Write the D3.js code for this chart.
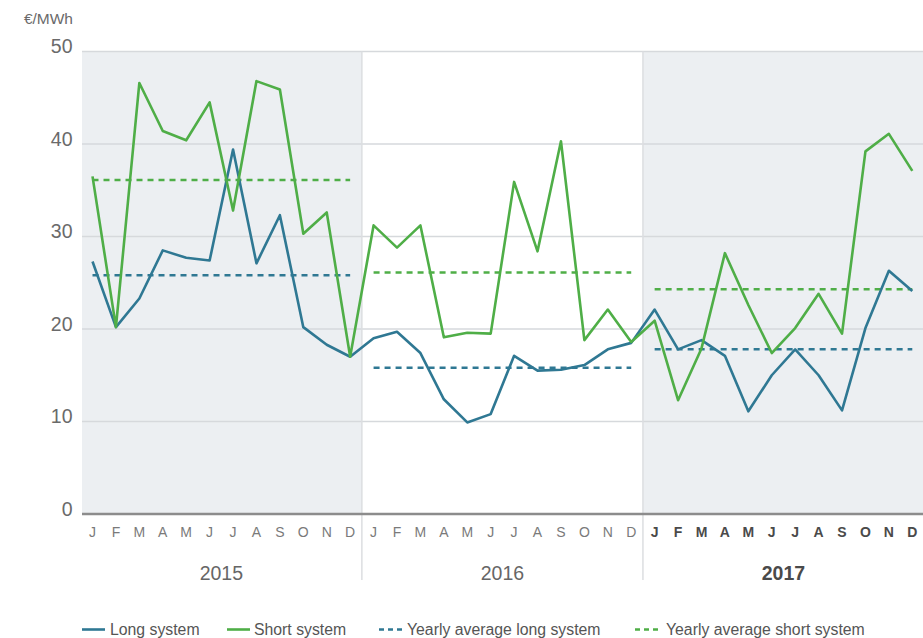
<!DOCTYPE html>
<html>
<head>
<meta charset="utf-8">
<script src="https://cdn.jsdelivr.net/npm/d3@7"></script>
<style>
  html, body { margin: 0; padding: 0; background: #fff; }
  svg { display: block; font-family: "Liberation Sans", Arial, sans-serif; }
</style>
</head>
<body>
<svg id="chart" width="923" height="638"></svg>
<script>
// Monthly imbalance prices, €/MWh
const years = ["2015", "2016", "2017"];
const months = ["J", "F", "M", "A", "M", "J", "J", "A", "S", "O", "N", "D"];
const yTicks = [0, 10, 20, 30, 40, 50];

const longSystem = [
  27.3, 20.2, 23.3, 28.5, 27.7, 27.4, 39.4, 27.1, 32.3, 20.2, 18.3, 17.0,
  19.0, 19.7, 17.4, 12.4, 9.9, 10.8, 17.1, 15.5, 15.6, 16.1, 17.8, 18.5,
  22.1, 17.8, 18.8, 17.1, 11.1, 15.0, 17.8, 15.0, 11.2, 20.1, 26.3, 24.1
];
const shortSystem = [
  36.5, 20.2, 46.6, 41.4, 40.4, 44.5, 32.8, 46.8, 45.9, 30.3, 32.6, 17.0,
  31.2, 28.8, 31.2, 19.1, 19.6, 19.5, 35.9, 28.4, 40.3, 18.8, 22.1, 18.6,
  20.9, 12.3, 17.9, 28.2, 22.6, 17.4, 20.1, 23.8, 19.5, 39.2, 41.1, 37.1
];
const avgLong = [25.8, 15.8, 17.8];
const avgShort = [36.1, 26.1, 24.3];

const colLong = "#2f7893";
const colShort = "#4fae47";

const svg = d3.select("#chart");
const plotTop = 51.5, plotBottom = 514;

const keys = [];
years.forEach(yr => months.forEach((m, i) => keys.push(yr + "-" + i)));

const x = d3.scaleBand().domain(keys).range([80.8, 924]).padding(0);
const cx = k => x(k) + x.bandwidth() / 2;
const y = d3.scaleLinear().domain([0, 50]).range([plotBottom, plotTop]);

// Year panels
years.forEach((yr, yi) => {
  const x0 = Math.max(x(yr + "-0"), 82), x1 = x(yr + "-11") + x.bandwidth();
  if (yi !== 1) {
    svg.append("rect")
      .attr("x", x0).attr("y", plotTop)
      .attr("width", x1 - x0).attr("height", plotBottom - plotTop)
      .attr("fill", "#eceff2");
  }
});

// Horizontal gridlines
svg.append("g").selectAll("line")
  .data(yTicks.filter(d => d > 0))
  .join("line")
  .attr("x1", 82).attr("x2", 923)
  .attr("y1", d => y(d)).attr("y2", d => y(d))
  .attr("stroke", "#d6d9dc").attr("stroke-width", 1.5);

// Year separators
years.slice(1).forEach(yr => {
  const xs = x(yr + "-0");
  svg.append("line")
    .attr("x1", xs).attr("x2", xs)
    .attr("y1", plotTop).attr("y2", 580)
    .attr("stroke", "#dcdee1").attr("stroke-width", 1.5);
});

// Baseline
svg.append("line")
  .attr("x1", 82).attr("x2", 923)
  .attr("y1", y(0)).attr("y2", y(0))
  .attr("stroke", "#8c8c8c").attr("stroke-width", 2.5);

// Y-axis labels
svg.append("g").selectAll("text")
  .data(yTicks)
  .join("text")
  .attr("x", 72.5).attr("y", d => y(d) + 1.5)
  .attr("text-anchor", "end")
  .attr("font-size", 19.5)
  .attr("fill", "#6a6a6a")
  .text(d => d);

svg.append("text")
  .attr("x", 73).attr("y", 24)
  .attr("text-anchor", "end")
  .attr("font-size", 15.5)
  .attr("fill", "#6a6a6a")
  .text("€/MWh");

// Month labels
svg.append("g").selectAll("text")
  .data(keys)
  .join("text")
  .attr("x", k => cx(k)).attr("y", 537)
  .attr("text-anchor", "middle")
  .attr("font-size", 14)
  .attr("font-weight", k => k.startsWith("2017") ? "bold" : "normal")
  .attr("fill", k => k.startsWith("2017") ? "#4a4a4a" : "#7a7a7a")
  .text(k => months[+k.split("-")[1]]);

// Year labels
svg.append("g").selectAll("text")
  .data(years)
  .join("text")
  .attr("x", yr => (x(yr + "-0") + x(yr + "-11") + x.bandwidth()) / 2)
  .attr("y", 580)
  .attr("text-anchor", "middle")
  .attr("font-size", 19.5)
  .attr("font-weight", yr => yr === "2017" ? "bold" : "normal")
  .attr("fill", yr => yr === "2017" ? "#4a4a4a" : "#666")
  .text(yr => yr);

// Yearly averages (dashed)
function drawAvg(values, color) {
  svg.append("g").selectAll("line")
    .data(years)
    .join("line")
    .attr("x1", yr => cx(yr + "-0")).attr("x2", yr => cx(yr + "-11"))
    .attr("y1", (yr, i) => y(values[i])).attr("y2", (yr, i) => y(values[i]))
    .attr("stroke", color).attr("stroke-width", 2.5)
    .attr("stroke-dasharray", "6,5");
}
drawAvg(avgShort, colShort);
drawAvg(avgLong, colLong);

// Monthly series
const line = d3.line().x((d, i) => cx(keys[i])).y(d => y(d));
svg.append("path").datum(longSystem)
  .attr("d", line).attr("fill", "none")
  .attr("stroke", colLong).attr("stroke-width", 2.6)
  .attr("stroke-linejoin", "round");
svg.append("path").datum(shortSystem)
  .attr("d", line).attr("fill", "none")
  .attr("stroke", colShort).attr("stroke-width", 2.6)
  .attr("stroke-linejoin", "round");

// Legend
const legend = [
  { label: "Long system", color: colLong, dashed: false, x: 82, tx: 110 },
  { label: "Short system", color: colShort, dashed: false, x: 227, tx: 254 },
  { label: "Yearly average long system", color: colLong, dashed: true, x: 379, tx: 407 },
  { label: "Yearly average short system", color: colShort, dashed: true, x: 635, tx: 666 }
];
const lg = svg.append("g");
legend.forEach(d => {
  lg.append("line")
    .attr("x1", d.x).attr("x2", d.x + 23)
    .attr("y1", 629.5).attr("y2", 629.5)
    .attr("stroke", d.color).attr("stroke-width", 2.6)
    .attr("stroke-dasharray", d.dashed ? "5,4" : null);
  lg.append("text")
    .attr("x", d.tx).attr("y", 635)
    .attr("font-size", 15.8)
    .attr("fill", "#555")
    .text(d.label);
});
</script>
</body>
</html>
